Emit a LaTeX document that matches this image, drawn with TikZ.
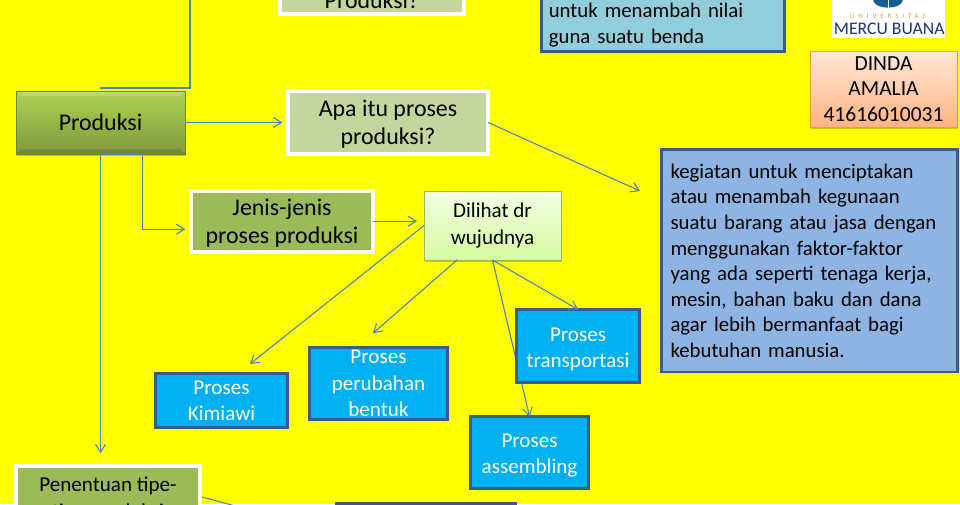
\documentclass[tikz,border=0pt]{standalone}
\usepackage{fontspec}
\setmainfont{Carlito}
\usetikzlibrary{positioning, arrows.meta, shadows}
\definecolor{pagey}{RGB}{255,255,0}
\definecolor{linkblue}{RGB}{79,129,189}
\definecolor{edgeblue}{RGB}{56,93,138}
\definecolor{sagesoft}{RGB}{195,214,155}
\definecolor{sage}{RGB}{155,187,89}
\definecolor{cyanbox}{RGB}{0,176,240}
\definecolor{skybox}{RGB}{146,205,220}
\definecolor{cornbox}{RGB}{142,180,227}
\definecolor{navylogo}{RGB}{28,52,120}
\definecolor{leaftop}{RGB}{172,212,82}
\definecolor{leafbot}{RGB}{128,152,62}
\definecolor{mintop}{RGB}{241,255,228}
\definecolor{minbot}{RGB}{215,250,160}
\definecolor{peachtop}{RGB}{255,230,216}
\definecolor{peachbot}{RGB}{255,180,130}
\definecolor{peachline}{RGB}{247,150,70}
\newcommand{\lowerline}{\rule{0pt}{14pt}}

\begin{document}
\begin{tikzpicture}[
    boxtext/.style={font=\fontsize{15}{18.7}\selectfont, align=center, inner sep=0pt, outer sep=0pt},
    headtext/.style={boxtext, font=\fontsize{17}{20.2}\selectfont},
    softshadow/.style={drop shadow={shadow xshift=0.02cm, shadow yshift=-0.04cm, opacity=0.35, fill=black!60!pagey}},
    mainbox/.style={headtext, draw=sage!70!black, line width=0.5pt, top color=leaftop, bottom color=leafbot,
                    minimum width=4.225cm, minimum height=1.575cm, softshadow,
                    path picture={
                      \fill[white, opacity=0.18] (path picture bounding box.north west) -- (path picture bounding box.north east)
                        -- ++(-0.12,-0.12) -- ++(-3.985,0) -- cycle;
                      \fill[black, opacity=0.12] (path picture bounding box.south west) -- (path picture bounding box.south east)
                        -- ++(-0.12,0.12) -- ++(-3.985,0) -- cycle;
                    }},
    whitebox/.style={headtext, draw=white, line width=2.9pt, softshadow},
    askbox/.style={whitebox, fill=sagesoft},
    kindbox/.style={whitebox, fill=sage},
    viewbox/.style={boxtext, draw=sage, line width=0.7pt, top color=mintop, bottom color=minbot,
                    minimum width=3.425cm, minimum height=1.725cm, softshadow},
    procbox/.style={boxtext, draw=edgeblue, line width=2pt, fill=cyanbox, text=white},
    defbox/.style={boxtext, font=\fontsize{14.8}{18.2}\selectfont, draw=edgeblue, line width=2pt, align=left},
    namebox/.style={boxtext, font=\fontsize{15.3}{18.2}\selectfont, draw=peachline, line width=0.7pt, top color=peachtop, bottom color=peachbot,
                    minimum width=3.675cm, minimum height=1.9cm, softshadow},
    conn/.style={linkblue, line width=0.75pt},
    connarr/.style={conn, -{Straight Barb[length=2mm, width=2.5mm]}},
]
\clip (0,0) rectangle (24,12.6);
\fill[pagey] (0,0) rectangle (24,12.6);

% ─── Top row, cut by the page edge ────────────────────────────────
\node[askbox, minimum width=4.6cm, minimum height=0.7cm] (tanya) at (9.3, 12.6) {Produksi?};
\node[defbox, fill=skybox, text width=5.71cm, minimum width=6.075cm, minimum height=1.325cm] (nilai) at (16.575, 11.975)
  {untuk menambah nilai\\guna suatu benda};

% logo block
\node[fill=white, minimum width=2.825cm, minimum height=1.1cm, inner sep=0pt, outer sep=0pt] (logo) at (22.2, 12.2) {};
\fill[navylogo!80!cyan] (21.83, 12.6) arc[start angle=180, end angle=360, x radius=0.37cm, y radius=0.19cm] -- cycle;
\draw[white, line width=0.6pt] (22.2, 12.6) -- (22.2, 12.38);
\node[font=\fontsize{5}{6}\selectfont\addfontfeature{LetterSpace=55}, text=sage, inner sep=0pt] (univ) at (22.2, 12.2) {UNIVERSITAS};
\node[font=\fontsize{12.6}{14}\selectfont, text=navylogo, inner sep=0pt] (mercu) at (22.23, 11.87) {MERCU BUANA};

\node[namebox] (dinda) at (22.0875, 10.375) {DINDA\\AMALIA\\41616010031};

% ─── Main concept + first questions ───────────────────────────────
\node[mainbox] (produksi) at (2.5125, 9.5375) {Produksi};
\node[askbox, minimum width=5cm, minimum height=1.575cm] (apa) at (9.7, 9.5375) {\lowerline Apa itu proses\\produksi?};
\node[kindbox, minimum width=4.55cm, minimum height=1.525cm] (jenis) at (7.05, 7.0625) {\lowerline Jenis-jenis\\proses produksi};
\node[viewbox] (dilihat) at (12.3125, 6.9625) {Dilihat dr\\wujudnya};

\node[defbox, fill=cornbox, text width=6.95cm, minimum width=7.4cm, minimum height=5.5625cm] (arti) at (20.2375, 6.08)
  {kegiatan untuk menciptakan\\atau menambah kegunaan\\suatu barang atau jasa dengan\\menggunakan faktor-faktor\\yang ada seperti tenaga kerja,\\mesin, bahan baku dan dana\\agar lebih bermanfaat bagi\\kebutuhan manusia.};

% ─── Kinds of process ─────────────────────────────────────────────
\node[procbox, minimum width=3.3cm, minimum height=1.35cm] (kimiawi) at (5.5375, 2.5875) {Proses\\Kimiawi};
\node[procbox, minimum width=3.45cm, minimum height=1.8cm] (bentuk) at (9.4625, 3.0125) {Proses\\perubahan\\bentuk};
\node[procbox, minimum width=2.95cm, minimum height=1.8cm] (assembling) at (13.2375, 1.2875) {\lowerline Proses\\assembling};

% ─── Bottom row, cut by the page edge ─────────────────────────────
\node[kindbox, boxtext, minimum width=4.6cm, minimum height=1.675cm] (tipe) at (2.7, 0.1125) {Penentuan tipe-\\tipe produksi};
\node[boxtext, draw=edgeblue, line width=2pt, fill=blue!30!cornbox, minimum width=4.475cm, minimum height=1.5cm] (bawah) at (10.65, -0.7375) {};

% ─── Free ends of the links ───────────────────────────────────────
\coordinate (atas) at (4.75, 12.7);
\coordinate (siku) at (4.75, 10.4);
\coordinate (bahu) at (2.5, 10.4);
\coordinate (artitip) at (16, 7.825);
\coordinate (kimiawitip) at (6.25, 3.5);
\coordinate (bentuktip) at (9.325, 4.27);
\coordinate (dilihatfoot) at (11.425, 6.1);
\coordinate (tipetip) at (6.2, -0.135);
\coordinate (tipeout) at (5.05, 0.175);
\coordinate (turuntip) at (2.5125, 1.27);

% ─── Links ────────────────────────────────────────────────────────
\draw[conn] (bahu) -- (siku) -- (atas);
\draw[connarr, shorten >=4pt] (produksi) -- (apa);
\draw[connarr] (produksi.south) -- ++(1.05,0) |- ([xshift=-4pt]jenis.west |- 0,6.87);
\draw[connarr] (produksi.south) -- (turuntip);
\draw[connarr, shorten >=5pt] (jenis.east |- 0,7.07) -- (dilihat.west |- 0,7.07);
\draw[connarr] (apa.east) -- (artitip);
\draw[connarr] (dilihat.west) -- (kimiawitip);
\draw[connarr] (dilihatfoot) -- (bentuktip);
\draw[connarr] (dilihat.south) -- (assembling.north);
\draw[conn] (tipeout) -- (tipetip);

% drawn last: this box sits over the link to assembling
\node[procbox, minimum width=3.075cm, minimum height=1.825cm] (transport) at (14.45, 3.95) {\lowerline Proses\\transportasi};
\draw[connarr] (dilihat.south) -- (transport.north);

\end{tikzpicture}
\end{document}
